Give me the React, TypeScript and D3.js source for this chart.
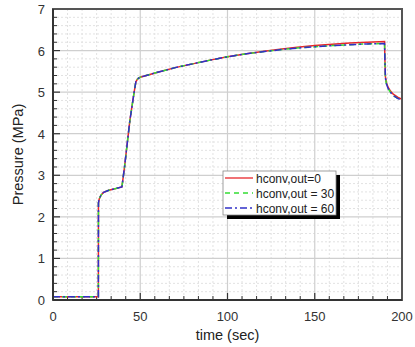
import React from "react";
import * as d3 from "d3";

const time = [0, 26, 26.05, 26.5, 27.5, 29, 32, 36, 39.5, 41, 44, 46.5, 47.5, 48.5, 50, 60, 70, 80, 90, 100, 110, 120, 130, 140, 150, 160, 170, 180, 190, 190.2, 190.5, 191, 192, 193.5, 195, 197.5, 200];
const p0 = [0.08, 0.08, 2.34, 2.43, 2.52, 2.59, 2.64, 2.68, 2.72, 3.2, 4.3, 5.0, 5.25, 5.32, 5.36, 5.48, 5.59, 5.68, 5.77, 5.85, 5.92, 5.98, 6.03, 6.08, 6.12, 6.15, 6.18, 6.2, 6.22, 5.8, 5.37, 5.24, 5.12, 5.02, 4.95, 4.88, 4.83];
const p30 = [0.08, 0.08, 2.34, 2.43, 2.52, 2.59, 2.64, 2.68, 2.72, 3.2, 4.3, 5.0, 5.25, 5.32, 5.36, 5.48, 5.59, 5.68, 5.77, 5.85, 5.92, 5.97, 6.02, 6.06, 6.09, 6.12, 6.14, 6.16, 6.17, 5.76, 5.34, 5.21, 5.09, 4.99, 4.92, 4.85, 4.8];
const p60 = [0.08, 0.08, 2.34, 2.43, 2.52, 2.59, 2.64, 2.68, 2.72, 3.2, 4.3, 5.0, 5.25, 5.32, 5.36, 5.48, 5.59, 5.68, 5.77, 5.85, 5.92, 5.97, 6.02, 6.06, 6.09, 6.12, 6.14, 6.16, 6.17, 5.76, 5.34, 5.21, 5.09, 4.99, 4.92, 4.85, 4.8];

const seriesNames = ["hconv,out=0", "hconv,out = 30", "hconv,out = 60"];
const seriesColors = ["#e8262a", "#33dd33", "#3030c8"];
const seriesDash = ["", "5,4", "7,3,2,3"];
const xTicks = [0, 50, 100, 150, 200];
const yTicks = [0, 1, 2, 3, 4, 5, 6, 7];

export default function App() {
  const W = 415, H = 347;
  const L = 53, R = 402, T = 9, B = 300;
  const x = d3.scaleLinear().domain([0, 200]).range([L, R]);
  const y = d3.scaleLinear().domain([0, 7]).range([B, T]);
  const line = d3.line<number>().x((_, i) => x(time[i])).y((d) => y(d));
  const series = [p0, p30, p60];

  const xMinor: number[] = [];
  for (let i = 0; i <= 24; i++) { const v = (i * 50) / 6; if (i % 6 !== 0) xMinor.push(v); }
  const yMinor: number[] = [];
  for (let i = 0; i <= 35; i++) { const v = i * 0.2; if (i % 5 !== 0) yMinor.push(v); }

  const font = "'Liberation Sans', Arial, sans-serif";
  const lx = 223, ly = 171, lw = 113, lh = 44;

  return (
    <svg width={W} height={H} style={{ position: "absolute", left: 0, top: 0, background: "#fff" }} fontFamily={font}>
      <defs>
        <clipPath id="pc"><rect x={L} y={T} width={R - L} height={B - T} /></clipPath>
      </defs>
      {xMinor.map((v) => (
        <line key={"xm" + v} x1={x(v)} x2={x(v)} y1={T} y2={B} stroke="#e2e2e2" strokeWidth={1} strokeDasharray="2,2" />
      ))}
      {yMinor.map((v) => (
        <line key={"ym" + v} x1={L} x2={R} y1={y(v)} y2={y(v)} stroke="#e2e2e2" strokeWidth={1} strokeDasharray="2,2" />
      ))}
      {xTicks.map((v) => (
        <line key={"xg" + v} x1={x(v)} x2={x(v)} y1={T} y2={B} stroke="#cfcfcf" strokeWidth={1.2} />
      ))}
      {yTicks.map((v) => (
        <line key={"yg" + v} x1={L} x2={R} y1={y(v)} y2={y(v)} stroke="#cfcfcf" strokeWidth={1.2} />
      ))}
      {xMinor.map((v) => (
        <line key={"xmt" + v} x1={x(v)} x2={x(v)} y1={B} y2={B - 4} stroke="#333" strokeWidth={1} />
      ))}
      {yMinor.map((v) => (
        <line key={"ymt" + v} x1={L} x2={L + 4} y1={y(v)} y2={y(v)} stroke="#333" strokeWidth={1} />
      ))}
      {xTicks.map((v) => (
        <line key={"xt" + v} x1={x(v)} x2={x(v)} y1={B} y2={B - 7} stroke="#333" strokeWidth={1.2} />
      ))}
      {yTicks.map((v) => (
        <line key={"yt" + v} x1={L} x2={L + 7} y1={y(v)} y2={y(v)} stroke="#333" strokeWidth={1.2} />
      ))}
      <g clipPath="url(#pc)">
        {series.map((s, i) => (
          <path key={"s" + i} d={line(s) || ""} fill="none" stroke={seriesColors[i]} strokeWidth={1.5} strokeDasharray={seriesDash[i]} />
        ))}
      </g>
      <rect x={L} y={T} width={R - L} height={B - T} fill="none" stroke="#555" strokeWidth={2} />
      <line x1={L} x2={L} y1={T} y2={B} stroke="#333" strokeWidth={2} />
      <line x1={L} x2={R} y1={B} y2={B} stroke="#333" strokeWidth={2} />
      {xTicks.map((v) => (
        <text key={"xl" + v} x={x(v)} y={B + 21} textAnchor="middle" fontSize={13} fill="#333">{v}</text>
      ))}
      {yTicks.map((v) => (
        <text key={"yl" + v} x={L - 8} y={y(v) + 5} textAnchor="end" fontSize={13} fill="#333">{v}</text>
      ))}
      <text x={(L + R) / 2} y={340} textAnchor="middle" fontSize={14.5} fill="#222">time (sec)</text>
      <text transform={`translate(23,${(T + B) / 2}) rotate(-90)`} textAnchor="middle" fontSize={14.5} fill="#222">Pressure (MPa)</text>
      <rect x={lx + 4} y={ly + 4} width={lw} height={lh} fill="#000" />
      <rect x={lx} y={ly} width={lw} height={lh} fill="#fff" stroke="#888" strokeWidth={0.8} />
      {seriesNames.map((n, i) => (
        <g key={"lg" + i}>
          <line x1={lx + 2} x2={lx + 30} y1={ly + 7 + i * 15} y2={ly + 7 + i * 15} stroke={seriesColors[i]} strokeWidth={1.3} strokeDasharray={seriesDash[i]} />
          <text x={lx + 33} y={ly + 11.5 + i * 15} fontSize={12} fill="#222">{n}</text>
        </g>
      ))}
    </svg>
  );
}
